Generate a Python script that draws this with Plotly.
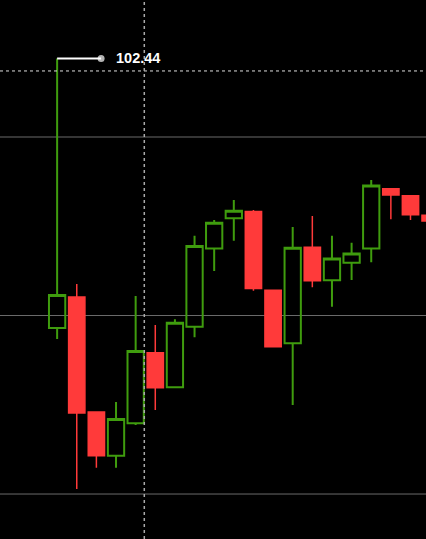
import plotly.graph_objects as go

idx = list(range(20))
opens  = [100.930, 101.104, 100.459, 100.215, 100.396, 100.792, 100.598, 100.937, 101.376, 101.545,
          101.582, 101.141, 100.844, 101.382, 101.197, 101.296, 101.376, 101.710, 101.671, 101.561]
closes = [101.115, 100.454, 100.215, 100.420, 100.801, 100.596, 100.960, 101.389, 101.520, 101.587,
          101.152, 100.825, 101.380, 101.195, 101.320, 101.348, 101.729, 101.675, 101.565, 101.529]
highs  = [102.440, 101.176, 100.459, 100.515, 101.109, 100.947, 100.979, 101.447, 101.535, 101.647,
          101.591, 101.141, 101.496, 101.557, 101.447, 101.408, 101.759, 101.712, 101.671, 101.561]
lows   = [100.868, 100.028, 100.147, 100.147, 100.387, 100.471, 100.598, 100.878, 101.249, 101.419,
          101.139, 100.825, 100.499, 101.158, 101.049, 101.199, 101.298, 101.539, 101.535, 101.529]

grid_vals = [100, 101, 102]
label_value = 102.44
label_anchor = [0, 2.24]
cross_x = 4.44
cross_y = 102.37

GREEN = "#3f9c0e"
RED = "#ff3a3a"

fig = go.Figure()
fig.add_trace(go.Candlestick(
    x=idx, open=opens, high=highs, low=lows, close=closes,
    increasing=dict(line=dict(color=GREEN, width=2), fillcolor="rgba(0,0,0,0)"),
    decreasing=dict(line=dict(color=RED, width=1.5), fillcolor=RED),
    whiskerwidth=0, hoverinfo="skip", showlegend=False,
))
fig.add_trace(go.Scatter(
    x=label_anchor, y=[label_value, label_value], mode="lines+markers",
    line=dict(color="white", width=2),
    marker=dict(color="white", size=[0, 7], line=dict(width=0)),
    showlegend=False, hoverinfo="skip",
))
fig.add_annotation(x=label_anchor[1], y=label_value, text="<b>%.2f</b>" % label_value,
                   xanchor="left", yanchor="middle", xshift=13, showarrow=False,
                   font=dict(color="white", size=14.5, family="Liberation Sans, Arial"))

for g in grid_vals:
    fig.add_shape(type="line", xref="paper", x0=0, x1=1, yref="y", y0=g, y1=g,
                  line=dict(color="#6a6a6a", width=1), layer="below")
fig.add_shape(type="line", xref="paper", x0=0, x1=1, yref="y", y0=cross_y, y1=cross_y,
              line=dict(color="#dddddd", width=1, dash="3px,3px"), layer="above")
fig.add_shape(type="line", xref="x", x0=cross_x, x1=cross_x, yref="paper", y0=0, y1=1,
              line=dict(color="#aaaaaa", width=1.5, dash="3px,3px"), layer="above")

fig.update_layout(
    width=426, height=539, margin=dict(l=0, r=0, t=0, b=0),
    paper_bgcolor="black", plot_bgcolor="black",
    boxgap=0.17, boxgroupgap=0,
    xaxis=dict(range=[-2.91, 18.79], visible=False, rangeslider=dict(visible=False)),
    yaxis=dict(range=[99.748, 102.7675], visible=False),
)
fig.write_html("out.html", config={"displayModeBar": False},
               post_script="document.body.style.margin='0';document.body.style.background='black';")
